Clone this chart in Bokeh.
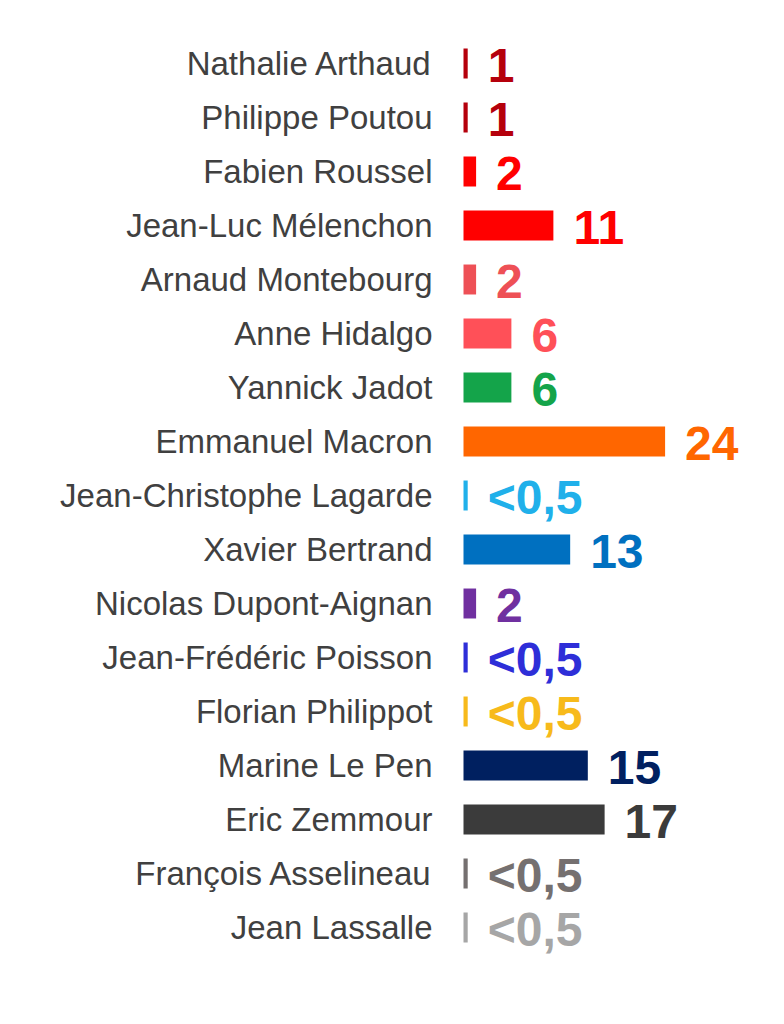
from bokeh.plotting import figure
from bokeh.models import ColumnDataSource, FactorRange, Range1d
from bokeh.embed import file_html
from bokeh.resources import INLINE
from bokeh.core.properties import value

candidates = ["Nathalie Arthaud", "Philippe Poutou", "Fabien Roussel", "Jean-Luc Mélenchon",
              "Arnaud Montebourg", "Anne Hidalgo", "Yannick Jadot", "Emmanuel Macron",
              "Jean-Christophe Lagarde", "Xavier Bertrand", "Nicolas Dupont-Aignan",
              "Jean-Frédéric Poisson", "Florian Philippot", "Marine Le Pen", "Eric Zemmour",
              "François Asselineau", "Jean Lassalle"]
bar_values = [0.5, 0.5, 1.5, 10.7, 1.5, 5.7, 5.7, 24, 0.5, 12.7, 1.5, 0.5, 0.5, 14.8, 16.8, 0.5, 0.5]
value_labels = ["1", "1", "2", "11", "2", "6", "6", "24", "<0,5", "13", "2", "<0,5", "<0,5",
                "15", "17", "<0,5", "<0,5"]
colors = ["#B5000C", "#B5000C", "#FF0000", "#FF0000", "#EE5056", "#FF5058", "#14A44A",
          "#FF6600", "#20B0EA", "#0070C0", "#7030A0", "#2E2ED8", "#F7BA1B", "#002060",
          "#3B3B3B", "#757070", "#A6A6A6"]

src = ColumnDataSource(dict(name=candidates, val=bar_values, lab=value_labels, col=colors,
                            zero=[0] * len(candidates)))

p = figure(width=768, height=1000, output_backend="svg", toolbar_location=None,
           y_range=FactorRange(factors=list(reversed(candidates)), range_padding=0),
           x_range=Range1d(-55.12, 36.31),
           min_border_left=0, min_border_right=0, min_border_top=36, min_border_bottom=46)
p.axis.visible = False
p.grid.visible = False
p.outline_line_color = None
p.background_fill_color = "white"
p.border_fill_color = "white"

p.hbar(y="name", left=0, right="val", height=0.555, fill_color="col", line_color=None, source=src)

p.text(x="zero", y="name", text="name", source=src, x_offset=-31, text_align="right",
       text_baseline="middle", text_font=value("Liberation Sans"), text_font_size="33px",
       text_color="#404040")

p.text(x="val", y="name", text="lab", source=src, x_offset=20, y_offset=2, text_align="left",
       text_baseline="middle", text_font=value("Liberation Sans"), text_font_size="48px",
       text_font_style="bold", text_color="col")

open("out.html", "w").write(file_html(p, INLINE))
